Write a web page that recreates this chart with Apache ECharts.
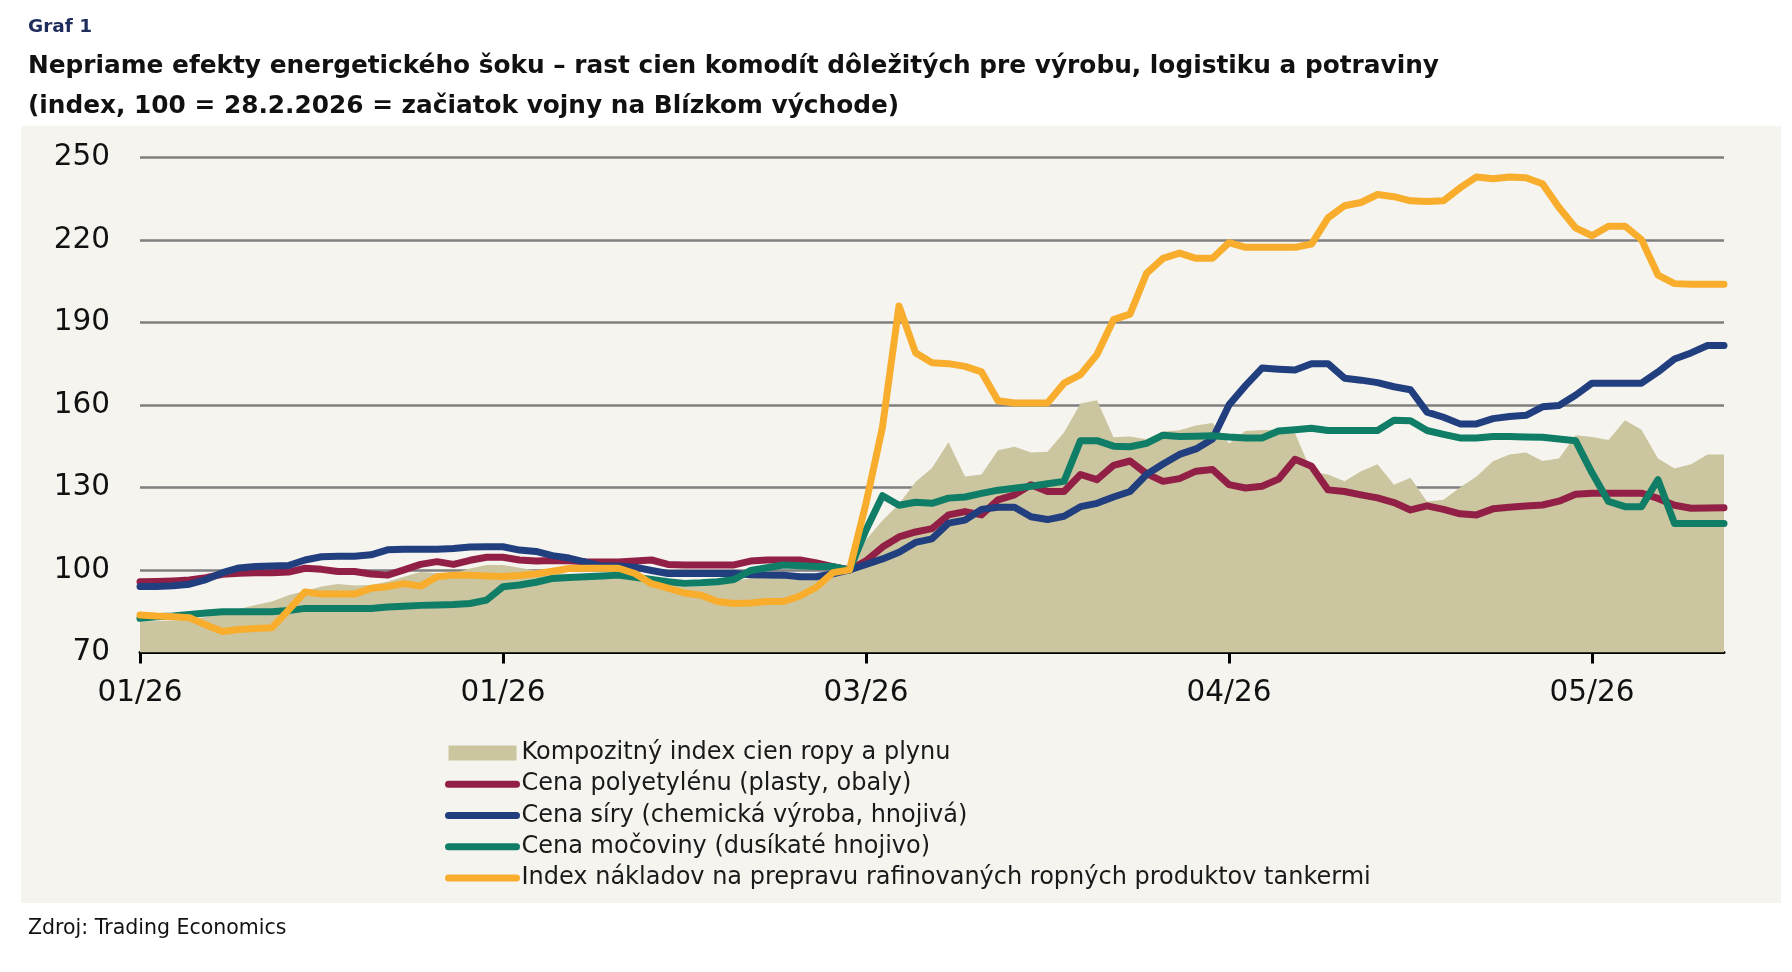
<!doctype html>
<html lang="sk">
<head>
<meta charset="UTF-8">
<title>Graf 1</title>
<style>
  html, body { margin: 0; padding: 0; background: #fff; }
  #panel { position: absolute; left: 21px; top: 126px; width: 1760px; height: 777px; background: #f5f4ef; }
  #main { position: absolute; left: 0; top: 0; width: 1792px; height: 972px; }
</style>
</head>
<body>
<div id="panel"></div>
<div id="main"></div>
<script src="https://cdn.jsdelivr.net/npm/echarts@6/dist/echarts.min.js"></script>
<script>
// one point per trading day, 22 points between month ticks
const tickLabels = ['01/26', '01/26', '03/26', '04/26', '05/26'];
const pointsPerTick = 22;

const seriesNames = [
    'Kompozitný index cien ropy a plynu',
    'Cena polyetylénu (plasty, obaly)',
    'Cena síry (chemická výroba, hnojivá)',
    'Cena močoviny (dusíkaté hnojivo)',
    'Index nákladov na prepravu rafinovaných ropných produktov tankermi'
];

const composite = [
    81.2, 81.4, 81.6, 81.8, 83, 84.2, 85.8, 87.2, 88.5, 90.8,
    92.3, 94, 94.9, 94.3, 94.5, 95.7, 97.5, 99.2, 98.8, 98.8,
    100.5, 101.8, 101.8, 100.8, 99.7, 99, 98.5, 98.5, 98, 98,
    97, 95.5, 94.5, 94, 94, 94.5, 96, 97, 97.5, 97.5,
    97.5, 97.5, 98.5, 100, 111, 118, 124, 132, 137.1, 146.4,
    134, 134.7, 143.5, 144.8, 142.7, 143, 150, 160.5, 161.7, 148.2,
    148.5, 147.5, 150.3, 150.8, 152.5, 153.4, 146, 150.5, 150.9, 151,
    149.7, 135.7, 134.7, 132.2, 135.9, 138.4, 131, 133.5, 124.9, 125.5,
    130, 134, 139.5, 142, 142.7, 139.6, 140.5, 149, 148.3, 147.2,
    154.4, 151, 140.5, 136.9, 138.4, 142, 142
];

const polyethylene = [
    95.7, 95.8, 96, 96.3, 97.2, 98.4, 98.8, 99, 99, 99.2,
    100.6, 100.2, 99.4, 99.4, 98.5, 98.1, 100, 102, 103, 102,
    103.5, 104.6, 104.6, 103.6, 103.2, 103.4, 103.3, 103, 102.9, 102.9,
    103.2, 103.6, 102, 101.8, 101.8, 101.8, 101.8, 103.2, 103.6, 103.6,
    103.6, 102.5, 101.2, 100, 103.3, 108.3, 112, 113.8, 115, 120,
    121.2, 120, 125.5, 127.3, 131, 128.5, 128.5, 134.7, 132.8, 138,
    139.6, 135, 132.2, 133.2, 135.9, 136.5, 131, 129.8, 130.4, 133,
    140.2, 137.7, 129.1, 128.5, 127.3, 126.2, 124.5, 121.8, 123.3, 122,
    120.4, 120, 122.2, 122.8, 123.2, 123.6, 125, 127.5, 127.9, 127.9,
    127.9, 127.9, 126, 123.5, 122.4, 122.5, 122.6
];

const sulphur = [
    94, 94, 94.2, 94.8, 96.5, 99, 100.7, 101.2, 101.4, 101.6,
    103.6, 104.8, 105, 105, 105.5, 107.3, 107.5, 107.5, 107.5, 107.8,
    108.3, 108.4, 108.4, 107.2, 106.7, 105.2, 104.3, 102.8, 101.4, 101.4,
    101, 99.8, 98.7, 98.7, 98.7, 98.7, 98.7, 98.2, 98.1, 98.1,
    97.5, 97.5, 98.6, 100, 102, 104, 106.4, 110, 111.3, 117,
    118.1, 122, 122.8, 122.8, 119.3, 118.3, 119.5, 123, 124.2, 126.5,
    128.5, 134.7, 138.5, 142, 144, 147.6, 160, 167, 173.4, 173,
    172.7, 175, 175, 169.7, 169, 168.1, 166.6, 165.5, 157.4, 155.5,
    153.1, 153.1, 155, 155.8, 156.2, 159.3, 159.8, 163.5, 167.9, 167.9,
    167.9, 167.9, 172, 176.7, 178.9, 181.6, 181.6
];

const urea = [
    82.4, 83, 83.2, 83.8, 84.3, 84.8, 84.8, 84.8, 84.8, 85.2,
    86, 86, 86, 86, 86, 86.5, 86.8, 87.1, 87.2, 87.4,
    87.8, 89, 93.9, 94.5, 95.5, 96.9, 97.2, 97.5, 97.8, 98.1,
    97.3, 96.5, 95.7, 95.1, 95.3, 95.7, 96.5, 99.8, 100.8, 101.8,
    101.5, 101.2, 101.2, 100, 114.5, 127, 123.5, 124.6, 124.2, 126.1,
    126.5, 127.8, 129, 129.7, 130.4, 131.3, 132.2, 147, 147, 145,
    144.8, 146, 149, 148.5, 148.6, 148.8, 148.3, 148, 148, 150.5,
    151, 151.5, 150.7, 150.7, 150.7, 150.7, 154.4, 154.2, 150.7, 149.3,
    148, 148, 148.5, 148.5, 148.3, 148.2, 147.6, 147, 135.3, 124.9,
    123, 123, 132.8, 116.9, 116.9, 116.9, 116.9
];

const tankers = [
    83.6, 83.2, 83, 82.6, 80, 77.6, 78.3, 78.7, 79, 85.4,
    92, 91.2, 91.2, 91.2, 93.3, 93.9, 95, 94.1, 97.5, 98.1,
    98.1, 97.8, 97.6, 98, 98.6, 99.5, 100.5, 100.6, 100.6, 100.6,
    98.7, 95, 93.4, 91.6, 90.8, 88.5, 87.8, 88, 88.5, 88.5,
    90.5, 93.7, 99, 100, 124.2, 152, 196, 179, 175.3, 175,
    174, 172, 161.5, 160.7, 160.7, 160.7, 167.9, 171, 178.3, 191,
    193, 207.8, 213.3, 215.2, 213.3, 213.3, 219, 217.3, 217.3, 217.3,
    217.3, 218.5, 228, 232.4, 233.6, 236.5, 235.7, 234.2, 234, 234.2,
    238.9, 242.9, 242.2, 242.9, 242.6, 240.4, 231.8, 224.4, 221.5, 225,
    225, 220.1, 207.2, 204.1, 203.9, 203.9, 203.9
];

const colors = ['#cbc5a0', '#921f45', '#213f7f', '#107e66', '#f8ad2d'];
const font = 'DejaVu Sans';
const lineWidth = 7;

const categories = composite.map((v, i) => i);
const isTick = (index) => index % pointsPerTick === 0;

const chart = echarts.init(document.getElementById('main'), null, {renderer: 'canvas'});

function lineSeries(name, data, color) {
    return {
        name: name,
        type: 'line',
        data: data,
        color: color,
        symbol: 'none',
        smooth: false,
        lineStyle: {width: lineWidth, cap: 'round', join: 'round'}
    };
}

chart.setOption({
    animation: false,
    backgroundColor: 'transparent',
    textStyle: {fontFamily: font},
    title: [
        {
            text: 'Graf 1',
            left: 23, top: 13,
            textStyle: {fontFamily: font, fontSize: 18.5, fontWeight: 'bold', color: '#1f2d5c'}
        },
        {
            text: 'Nepriame efekty energetického šoku – rast cien komodít dôležitých pre výrobu, logistiku a potraviny\n(index, 100 = 28.2.2026 = začiatok vojny na Blízkom východe)',
            left: 23, top: 42,
            textStyle: {fontFamily: font, fontSize: 24.8, fontWeight: 'bold', color: '#111', lineHeight: 40}
        },
        {
            text: 'Zdroj: Trading Economics',
            left: 23, top: 913,
            textStyle: {fontFamily: font, fontSize: 20.5, fontWeight: 'normal', color: '#111'}
        }
    ],
    grid: {left: 140, right: 68, top: 157.4, bottom: 319.6},
    legend: {
        orient: 'vertical',
        left: 440, top: 736,
        itemWidth: 68, itemHeight: 15, itemGap: 7.25,
        selectedMode: false,
        lineStyle: {width: lineWidth, cap: 'round'},
        textStyle: {fontFamily: font, fontSize: 24, lineHeight: 24, color: '#1a1a1a'},
        data: [
            {name: seriesNames[0], icon: 'rect', itemStyle: {color: colors[0]}},
            {name: seriesNames[1], itemStyle: {opacity: 0}},
            {name: seriesNames[2], itemStyle: {opacity: 0}},
            {name: seriesNames[3], itemStyle: {opacity: 0}},
            {name: seriesNames[4], itemStyle: {opacity: 0}}
        ]
    },
    xAxis: {
        type: 'category',
        data: categories,
        boundaryGap: false,
        axisLine: {show: true, onZero: false, lineStyle: {color: '#000', width: 3}},
        axisTick: {show: true, interval: isTick, length: 11, lineStyle: {color: '#000', width: 3}},
        axisLabel: {
            interval: isTick,
            margin: 26,
            fontFamily: font, fontSize: 29.5, color: '#111',
            formatter: (value, index) => tickLabels[index / pointsPerTick]
        },
        splitLine: {show: false}
    },
    yAxis: {
        type: 'value',
        min: 70, max: 250, interval: 30,
        axisLine: {show: false},
        axisTick: {show: false},
        axisLabel: {margin: 30, fontFamily: font, fontSize: 29.5, color: '#111'},
        splitLine: {lineStyle: {color: '#7f7f7f', width: 2.5}}
    },
    series: [
        {
            name: seriesNames[0],
            type: 'line',
            data: composite,
            color: colors[0],
            symbol: 'none',
            lineStyle: {width: 0},
            areaStyle: {color: colors[0], opacity: 1, origin: 'start'}
        },
        lineSeries(seriesNames[1], polyethylene, colors[1]),
        lineSeries(seriesNames[2], sulphur, colors[2]),
        lineSeries(seriesNames[3], urea, colors[3]),
        lineSeries(seriesNames[4], tankers, colors[4])
    ]
});
</script>
</body>
</html>
